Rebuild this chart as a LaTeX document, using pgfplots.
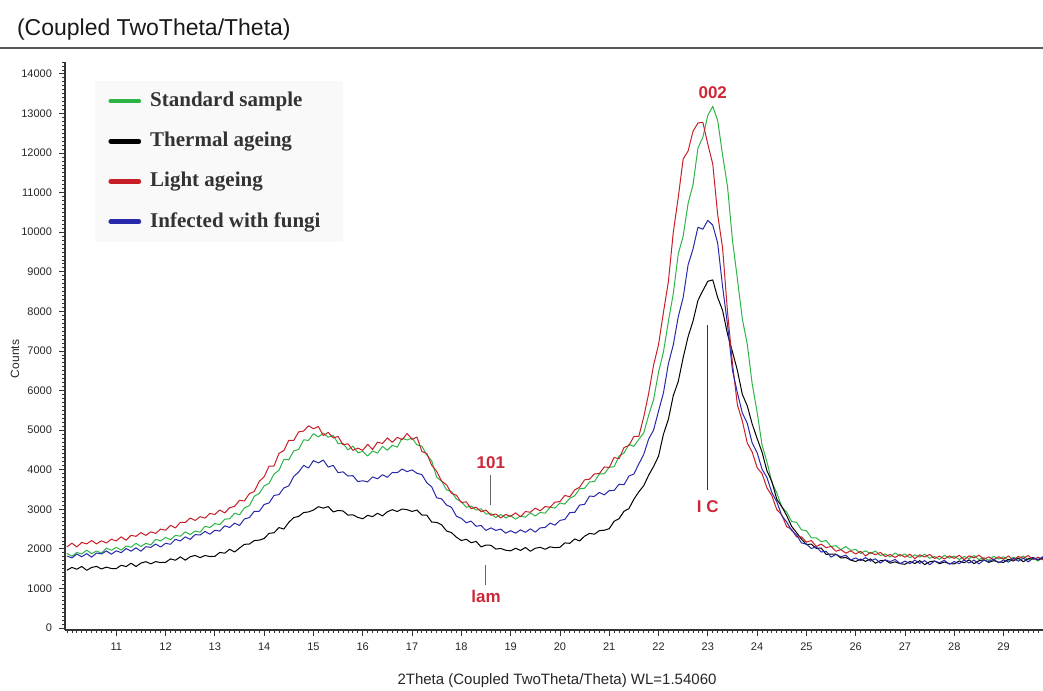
\documentclass[border=0pt]{standalone}
\usepackage{fontspec}
\setmainfont{Liberation Sans}
\newfontfamily\serifface{Liberation Serif}
\usepackage{pgfplots}
\usepackage{pgfplotstable}
\pgfplotsset{compat=1.18}
\definecolor{cGreen}{RGB}{45,180,70}
\definecolor{cRed}{RGB}{200,30,40}
\definecolor{cBlue}{RGB}{40,40,170}
\definecolor{cAnn}{RGB}{205,40,55}

\pgfplotstableread{
x G R B K
10.0 1890 2050 1820 1460
10.1 1814 2144 1770 1532
10.2 1908 2048 1870 1484
10.3 1872 2162 1800 1556
10.4 1966 2126 1880 1458
10.5 1880 2210 1790 1530
10.6 1946 2126 1896 1556
10.7 1892 2202 1872 1492
10.8 2018 2148 1948 1538
10.9 1964 2244 1864 1504
11.0 2040 2200 1950 1500
11.1 1970 2304 1904 1586
11.2 2070 2218 2008 1552
11.3 2040 2342 1942 1638
11.4 2140 2316 2026 1554
11.5 2060 2410 1940 1640
11.6 2140 2340 2054 1676
11.7 2100 2430 2038 1622
11.8 2240 2390 2122 1678
11.9 2200 2500 2046 1654
12.0 2290 2470 2140 1660
12.1 2230 2594 2116 1746
12.2 2340 2528 2242 1712
12.3 2320 2672 2198 1798
12.4 2430 2666 2304 1714
12.5 2360 2780 2240 1800
12.6 2450 2716 2360 1834
12.7 2420 2812 2350 1778
12.8 2570 2778 2440 1832
12.9 2540 2894 2370 1806
13.0 2640 2870 2470 1810
13.1 2610 2983 2450 1910
13.2 2750 2907 2580 1890
13.3 2760 3040 2540 1990
13.4 2900 3073 2650 1920
13.5 2860 3227 2590 2020
13.6 3035 3210 2755 2115
13.7 3090 3395 2790 2120
13.8 3330 3450 2950 2210
13.9 3400 3705 2950 2220
14.0 3590 3820 3120 2260
14.1 3655 4092 3160 2393
14.2 3890 4093 3350 2405
14.3 3985 4410 3370 2538
14.4 4260 4485 3540 2500
14.5 4250 4740 3590 2670
14.6 4475 4740 3830 2790
14.7 4510 4955 3940 2820
14.8 4755 4975 4108 2917
14.9 4740 5110 4042 2933
15.0 4910 5035 4230 2980
15.1 4825 5090 4170 3065
15.2 4925 4860 4245 3030
15.3 4820 4943 4065 3067
15.4 4870 4802 4110 2933
15.5 4660 4840 3923 2970
15.6 4665 4628 3947 2957
15.7 4500 4655 3840 2853
15.8 4595 4488 3850 2860
15.9 4430 4545 3700 2795
16.0 4460 4488 3720 2760
16.1 4345 4642 3693 2847
16.2 4475 4510 3817 2813
16.3 4420 4698 3770 2900
16.4 4590 4660 3873 2833
16.5 4490 4803 3807 2937
16.6 4615 4690 3930 2990
16.7 4570 4820 3923 2943
16.8 4795 4755 4017 3007
16.9 4750 4915 3950 2990
17.0 4800 4765 3995 2945
17.1 4625 4825 3910 2980
17.2 4595 4460 3875 2855
17.3 4370 4410 3670 2850
17.4 4220 4110 3565 2675
17.5 3810 3960 3290 2670
17.6 3710 3710 3263 2607
17.7 3490 3620 3107 2453
17.8 3450 3400 3050 2410
17.9 3260 3355 2825 2295
18.0 3190 3170 2770 2210
18.1 3050 3188 2660 2243
18.2 3080 3015 2700 2155
18.3 2980 3053 2570 2188
18.4 3010 2940 2590 2050
18.5 2880 2980 2465 2095
18.6 2890 2850 2530 2090
18.7 2790 2880 2465 1995
18.8 2870 2780 2500 2010
18.9 2780 2870 2395 1965
19.0 2840 2820 2460 1950
19.1 2750 2910 2395 2015
19.2 2830 2810 2480 1960
19.3 2800 2943 2418 2035
19.4 2910 2925 2505 1940
19.5 2830 3028 2423 2015
19.6 2920 2960 2530 2040
19.7 2900 3070 2540 1990
19.8 3050 3050 2650 2050
19.9 3030 3180 2600 2030
20.0 3160 3195 2720 2040
20.1 3130 3350 2743 2150
20.2 3280 3315 2917 2140
20.3 3340 3490 2920 2250
20.4 3520 3557 3107 2200
20.5 3530 3743 3123 2320
20.6 3690 3760 3330 2390
20.7 3700 3895 3328 2370
20.8 3890 3900 3425 2460
20.9 3900 4070 3363 2470
21.0 4060 4055 3470 2510
21.1 4075 4308 3477 2697
21.2 4345 4277 3633 2763
21.3 4420 4560 3620 2950
21.4 4640 4610 3840 3017
21.5 4590 4840 3890 3253
21.6 4765 4840 4145 3440
21.7 4930 5330 4385 3595
21.8 5375 5925 4775 3860
21.9 5770 6645 5000 4080
22.0 6460 7155 5480 4340
22.1 6975 7975 5940 4895
22.2 7745 8750 6675 5270
22.3 8450 10000 7155 5875
22.4 9450 10875 7860 6225
22.5 9900 11850 8350 6830
22.6 10725 12050 9175 7360
22.7 11200 12550 9575 7755
22.8 12125 12760 10125 8275
22.9 12400 12775 10075 8525
23.0 12950 12225 10300 8760
23.1 13180 11725 10180 8795
23.2 12825 10450 9725 8350
23.3 11950 9600 8625 8025
23.4 11150 7985 7660 7425
23.5 9800 6690 6510 6980
23.6 8825 5640 5945 6510
23.7 7810 5230 5435 5905
23.8 7175 4675 5175 5615
23.9 6170 4445 4675 5155
24.0 5460 4055 4430 4790
24.1 4625 3900 4015 4445
24.2 4195 3540 3800 3970
24.3 3680 3340 3420 3700
24.4 3410 2990 3190 3250
24.5 3060 2860 2840 3070
24.6 2930 2560 2680 2840
24.7 2690 2495 2465 2570
24.8 2670 2300 2350 2410
24.9 2480 2305 2150 2245
25.0 2460 2170 2120 2110
25.1 2280 2210 2010 2120
25.2 2280 2060 2050 2010
25.3 2180 2120 1920 2020
25.4 2210 2030 1940 1860
25.5 2060 2060 1790 1870
25.6 2080 1940 1860 1864
25.7 1980 1980 1800 1768
25.8 2060 1890 1840 1782
25.9 1960 1950 1720 1716
26.0 1990 1870 1770 1680
26.1 1885 1940 1700 1742
26.2 1950 1820 1780 1684
26.3 1880 1910 1690 1746
26.4 1945 1850 1750 1638
26.5 1830 1910 1640 1700
26.6 1872 1804 1724 1714
26.7 1794 1858 1678 1638
26.8 1896 1782 1732 1672
26.9 1818 1856 1626 1626
27.0 1870 1790 1690 1610
27.1 1774 1866 1628 1680
27.2 1848 1752 1716 1631
27.3 1792 1848 1634 1702
27.4 1866 1794 1702 1602
27.5 1760 1860 1600 1673
27.6 1806 1758 1690 1694
27.7 1732 1816 1650 1625
27.8 1838 1744 1710 1667
27.9 1764 1822 1610 1628
28.0 1820 1760 1680 1620
28.1 1728 1838 1624 1694
28.2 1806 1726 1718 1648
28.3 1754 1824 1642 1722
28.4 1832 1772 1716 1626
28.5 1730 1840 1620 1700
28.6 1778 1738 1714 1724
28.7 1706 1796 1678 1658
28.8 1814 1724 1742 1702
28.9 1742 1802 1646 1666
29.0 1800 1740 1720 1660
29.1 1710 1820 1666 1736
29.2 1790 1710 1762 1692
29.3 1740 1810 1688 1768
29.4 1820 1760 1764 1674
29.5 1720 1830 1670 1750
29.6 1765 1730 1767 1780
29.7 1692 1790 1733 1720
29.8 1800 1720 1800 1770
}\xrd

\begin{document}
\begin{tikzpicture}
\useasboundingbox (-32.5pt,-30pt) rectangle (489pt,315pt);
\begin{axis}[
  at={(0pt,0pt)}, anchor=south west,
  scale only axis, width=489pt, height=284pt,
  xmin=9.96, xmax=29.8, ymin=-50, ymax=14300,
  axis x line*=bottom, axis y line*=left,
  axis line style={line width=0.6pt, black!80},
  tick align=outside,
  xtick={11,12,...,29},
  ytick={0,1000,...,14000},
  minor xtick={10,10.1,...,29.8},
  minor ytick={0,100,...,14300},
  major tick length=3pt, minor tick length=1.5pt,
  every tick/.style={black!80, line width=0.4pt},
  ticklabel style={font=\fontsize{5.5}{6}\selectfont, text=black!85},
  /pgf/number format/assume math mode=true,
  /pgf/number format/set thousands separator={},
  scaled y ticks=false,
  legend cell align=left,
  legend style={at={(0.0307,0.968)}, anchor=north west, fill=gray!5, draw=none,
    font=\serifface\bfseries\fontsize{10.5}{12}\selectfont, text=black!80,
    inner xsep=6.5pt, inner ysep=0.5pt, row sep=0.6pt,
    nodes={text height=8pt, text depth=2.5pt, inner sep=4.5pt},
    /tikz/every even column/.append style={column sep=3pt}},
  legend image code/.code={\draw[line width=2.4pt, line cap=round] (1pt,0pt) -- (15pt,0pt);},
]
\addplot[cGreen, line width=0.5pt, line join=round] table[x=x,y=G]{\xrd};
\addlegendentry{Standard sample}
\addplot[black, line width=0.5pt, line join=round] table[x=x,y=K]{\xrd};
\addlegendentry{Thermal ageing}
\addplot[cRed, line width=0.5pt, line join=round] table[x=x,y=R]{\xrd};
\addlegendentry{Light ageing}
\addplot[cBlue, line width=0.5pt, line join=round] table[x=x,y=B]{\xrd};
\addlegendentry{Infected with fungi}

\node[text=cAnn, font=\bfseries\fontsize{8.5}{10}\selectfont] at (axis cs:23.1,13535) {002};
\node[text=cAnn, font=\bfseries\fontsize{8.5}{10}\selectfont] at (axis cs:18.6,4190) {101};
\draw[black!60, line width=0.5pt] (axis cs:18.6,3860) -- (axis cs:18.6,3100);
\node[text=cAnn, font=\bfseries\fontsize{8.5}{10}\selectfont] at (axis cs:18.5,810) {lam};
\draw[black!60, line width=0.5pt] (axis cs:18.5,1590) -- (axis cs:18.5,1090);
\draw[black!80, line width=0.6pt] (axis cs:23.0,7650) -- (axis cs:23.0,3480);
\node[text=cAnn, font=\bfseries\fontsize{8.5}{10}\selectfont] at (axis cs:23.0,3055) {I C};
\end{axis}
\node[anchor=west, font=\fontsize{11.5}{13}\selectfont, text=black!90] at (-27.5pt,300pt) {(Coupled TwoTheta/Theta)};
\draw[black!65, line width=1pt] (-32.5pt,291pt) -- (489pt,291pt);
\node[rotate=90, font=\fontsize{6}{7}\selectfont, text=black!85] at (-25pt,135.5pt) {Counts};
\node[font=\fontsize{7.5}{9}\selectfont, text=black!85] at (246pt,-25.5pt) {2Theta (Coupled TwoTheta/Theta) WL=1.54060};
\end{tikzpicture}
\end{document}
